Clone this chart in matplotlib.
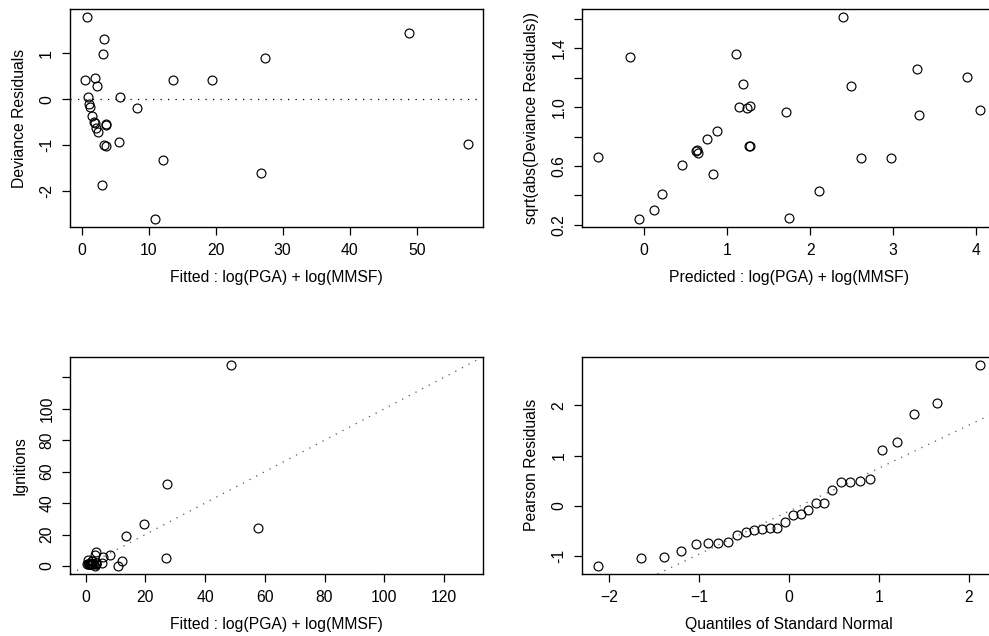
import matplotlib
matplotlib.use("Agg")
import matplotlib.pyplot as plt
import numpy as np

plt.rcParams['font.family'] = ['Liberation Sans', 'DejaVu Sans']

# ---- data ----
# Fitted values (panel 1 & 3 x axis)
fitted = [0.84, 48.8, 3.33, 3.18, 27.3, 0.55, 1.99, 2.28, 13.65, 19.46,
          0.94, 5.71, 1.14, 1.24, 8.24, 1.54, 1.89, 1.94, 3.57, 3.62,
          2.14, 2.38, 5.51, 3.38, 3.57, 57.6, 12.16, 26.8, 3.03, 10.9]
# Deviance residuals (panel 1)
dev_resid = [1.78, 1.44, 1.31, 0.99, 0.89, 0.43, 0.47, 0.28, 0.41, 0.41,
             0.05, 0.05, -0.10, -0.16, -0.19, -0.36, -0.50, -0.52, -0.54, -0.55,
             -0.62, -0.71, -0.93, -0.99, -1.02, -0.96, -1.31, -1.59, -1.85, -2.59]
# Observed ignitions (panel 3 y axis)
ignitions = [4, 128, 9, 7, 52, 1, 3, 3, 19, 27,
             1, 6, 1, 1, 7, 1, 1, 1, 2, 2,
             1, 1, 2, 1, 1, 24, 3, 5, 0, 0]

# Panel 2: linear predictor and sqrt(|deviance residual|)
predicted = [-0.558, -0.165, -0.06, 0.12, 0.22, 0.46, 0.626, 0.635, 0.655, 0.763,
             0.827, 0.875, 1.108, 1.193, 1.149, 1.237, 1.273, 1.269, 1.277, 1.711,
             1.747, 2.112, 2.394, 2.498, 2.614, 2.972, 3.285, 3.309, 3.888, 4.048]
sqrt_abs_dev = [0.663, 1.341, 0.243, 0.302, 0.412, 0.605, 0.704, 0.708, 0.688, 0.783,
                0.546, 0.840, 1.359, 1.154, 1.000, 0.995, 1.009, 0.736, 0.733, 0.964,
                0.247, 0.433, 1.608, 1.145, 0.656, 0.654, 1.260, 0.948, 1.203, 0.980]

# Panel 4: normal quantiles and sorted Pearson residuals
norm_quantiles = [-2.13, -1.65, -1.39, -1.20, -1.04, -0.90, -0.79, -0.68, -0.58, -0.48,
                  -0.39, -0.30, -0.21, -0.13, -0.04, 0.04, 0.13, 0.21, 0.30, 0.39,
                  0.48, 0.58, 0.68, 0.79, 0.90, 1.04, 1.20, 1.39, 1.65, 2.13]
pearson_resid = [-1.20, -1.035, -1.02, -0.91, -0.76, -0.75, -0.74, -0.72, -0.58, -0.52,
                 -0.48, -0.46, -0.44, -0.44, -0.33, -0.18, -0.17, -0.09, 0.05, 0.06,
                 0.31, 0.47, 0.47, 0.49, 0.53, 1.11, 1.27, 1.82, 2.04, 2.81]

x_label_fit = "Fitted : log(PGA) + log(MMSF)"
x_label_pred = "Predicted : log(PGA) + log(MMSF)"
x_label_qq = "Quantiles of Standard Normal"

# ---- figure ----
W, H = 989, 636
fig = plt.figure(figsize=(W / 100, H / 100), dpi=100)
FS = 11.3


def px_axes(left, top, right, bottom):
    return fig.add_axes([left / W, 1 - bottom / H, (right - left) / W, (bottom - top) / H])


def rlim(vals):
    lo, hi = min(vals), max(vals)
    r = hi - lo
    return lo - 0.04 * r, hi + 0.04 * r


def style(ax, xlabel, ylabel):
    for s in ax.spines.values():
        s.set_linewidth(1.0)
        s.set_color('black')
    ax.tick_params(direction='out', length=5.5, width=0.9, labelsize=FS, pad=6,
                   colors='black')
    ax.tick_params(axis='y', labelrotation=90)
    for lab in ax.get_yticklabels():
        lab.set_va('center')
    ax.set_xlabel(xlabel, fontsize=FS)
    ax.set_ylabel(ylabel, fontsize=FS)
    ax.xaxis.set_label_coords(0.5, -0.2)
    ax.yaxis.set_label_coords(-0.104, 0.5)


mk = dict(linestyle='none', marker='o', markersize=6.4, markerfacecolor='none',
          markeredgecolor='black', markeredgewidth=0.85)
dotted = dict(color='black', linewidth=0.9, linestyle=(0, (1, 5)))

# Panel 1
ax1 = px_axes(70, 9.3, 483, 226.7)
ax1.plot(fitted, dev_resid, **mk)
ax1.set_xlim(rlim(fitted))
ax1.set_ylim(rlim(dev_resid))
ax1.axhline(0, **dotted)
ax1.set_xticks([0, 10, 20, 30, 40, 50])
ax1.set_yticks([-2, -1, 0, 1])
ax1.set_yticklabels(['-2', '-1', '0', '1'])
style(ax1, x_label_fit, "Deviance Residuals")

# Panel 2
ax2 = px_axes(582.3, 9.3, 995.5, 226.7)
ax2.plot(predicted, sqrt_abs_dev, **mk)
ax2.set_xlim(rlim(predicted))
ax2.set_ylim(rlim(sqrt_abs_dev))
ax2.set_xticks([0, 1, 2, 3, 4])
ax2.set_yticks([0.2, 0.4, 0.6, 0.8, 1.0, 1.2, 1.4, 1.6])
ax2.set_yticklabels(['0.2', '', '0.6', '', '1.0', '', '1.4', ''])
style(ax2, x_label_pred, "sqrt(abs(Deviance Residuals))")

# Panel 3
ax3 = px_axes(70.3, 356.7, 483.3, 574)
ax3.plot(fitted, ignitions, **mk)
lim3 = rlim(list(fitted) + list(ignitions))
ax3.set_xlim(lim3)
ax3.set_ylim(lim3)
ax3.axline((0, 0), slope=1, color='#555555', linewidth=0.9, linestyle=(0, (1, 5)))
ax3.set_xticks([0, 20, 40, 60, 80, 100, 120])
ax3.set_yticks([0, 20, 40, 60, 80, 100, 120])
ax3.set_yticklabels(['0', '20', '40', '60', '80', '100', ''])
style(ax3, x_label_fit, "Ignitions")

# Panel 4
ax4 = px_axes(582.3, 356.7, 995.7, 574)
ax4.plot(norm_quantiles, pearson_resid, **mk)
ax4.set_xlim(rlim(norm_quantiles))
ax4.set_ylim(rlim(pearson_resid))
q1, q3 = np.percentile(pearson_resid, [25, 75])
zq = 0.6745
slope = (q3 - q1) / (2 * zq)
icpt = (q1 + q3) / 2
ax4.axline((0, icpt), slope=slope, color='#555555', linewidth=0.9, linestyle=(0, (1, 5)))
ax4.set_xticks([-2, -1, 0, 1, 2])
ax4.set_yticks([-1, 0, 1, 2])
ax4.set_yticklabels(['-1', '0', '1', '2'])
style(ax4, x_label_qq, "Pearson Residuals")

fig.savefig("out.png", dpi=100)
